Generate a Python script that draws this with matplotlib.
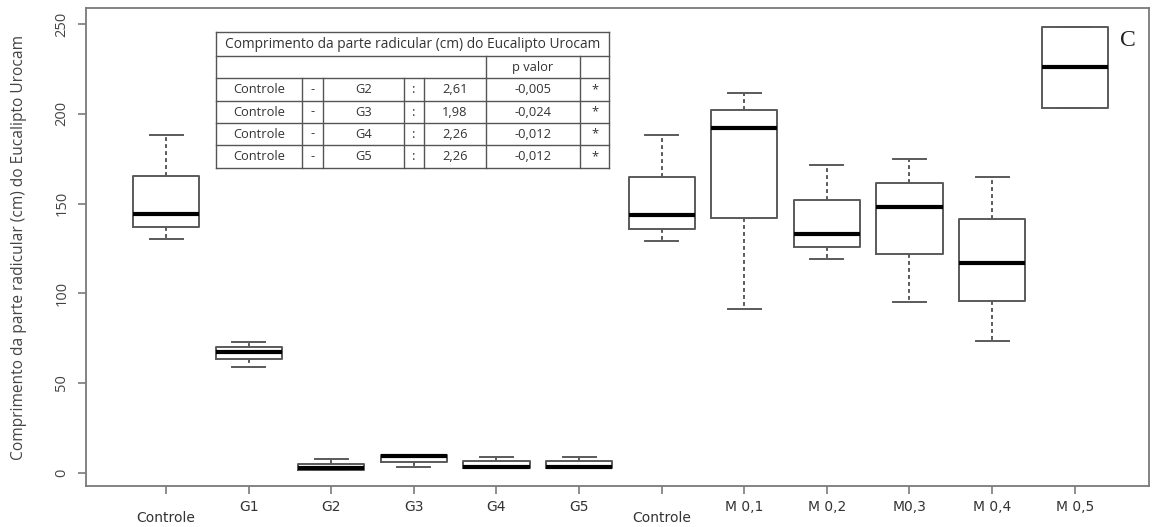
import matplotlib.pyplot as plt
import matplotlib.transforms as mtransforms

# five-number summaries (cm)
groups = ["Controle", "G1", "G2", "G3", "G4", "G5",
          "Controle", "M 0,1", "M 0,2", "M0,3", "M 0,4", "M 0,5"]
whislo = [130, 59, 1.4, 3.1, 2.4, 2.4, 129, 91, 119, 95, 73.5, 203.5]
q1 = [137, 63.5, 1.4, 5.9, 2.4, 2.4, 136, 142, 126, 122, 95.5, 203.5]
med = [144, 67, 2.3, 9.3, 3.3, 3.3, 143.5, 192, 133, 148, 117, 226]
q3 = [165.5, 70, 4.6, 10, 6.3, 6.3, 165, 202, 152, 161.5, 141.5, 248.5]
whishi = [188, 73, 7.3, 10, 8.9, 8.9, 188, 211.5, 171.5, 175, 165, 248.5]

yticks = [0, 50, 100, 150, 200, 250]

# table content
table_title = "Comprimento da parte radicular (cm) do Eucalipto Urocam"
table_rows = [
    ["Controle", "-", "G2", ":", "2,61", "-0,005", "*"],
    ["Controle", "-", "G3", ":", "1,98", "-0,024", "*"],
    ["Controle", "-", "G4", ":", "2,26", "-0,012", "*"],
    ["Controle", "-", "G5", ":", "2,26", "-0,012", "*"],
]

W, H = 1152, 527
fig = plt.figure(figsize=(W / 100, H / 100), dpi=100)
ax = fig.add_axes([86 / W, 1 - 486 / H, (1149 - 86) / W, (486 - 8) / H])

gray = "#5a5a5a"
stats = []
for i in range(len(groups)):
    stats.append(dict(whislo=whislo[i], q1=q1[i], med=med[i], q3=q3[i],
                      whishi=whishi[i], fliers=[]))

ax.bxp(stats, positions=range(1, len(groups) + 1), widths=0.8,
       patch_artist=False,
       boxprops=dict(color=gray, linewidth=1.4),
       medianprops=dict(color="black", linewidth=3),
       whiskerprops=dict(color=gray, linewidth=1.4, linestyle=(0, (2, 1.6))),
       capprops=dict(color=gray, linewidth=1.4))

ax.set_xlim(0.03, 12.9)
ax.set_ylim(-7.5, 259)

for s in ax.spines.values():
    s.set_color("#7a7a7a")
    s.set_linewidth(1.3)

ax.set_xticks(range(1, len(groups) + 1))
ax.set_xticklabels(groups, fontsize=10, color="#333333",
                   family=["Liberation Sans Narrow", "DejaVu Sans"])
ax.tick_params(axis="x", length=6, width=1.2, color="#7a7a7a", pad=4)
for lab, name in zip(ax.get_xticklabels(), groups):
    if name == "Controle":
        off = mtransforms.ScaledTranslation(0, -8 / 72, fig.dpi_scale_trans)
        lab.set_transform(lab.get_transform() + off)

ax.set_yticks(yticks)
ax.set_yticklabels([str(v) for v in yticks], rotation=90, va="center",
                   fontsize=10.5, color="#444444", family="Open Sans")
ax.tick_params(axis="y", length=6, width=1.2, color="#7a7a7a", pad=6)

ax.set_ylabel("Comprimento da parte radicular (cm) do Eucalipto Urocam",
              fontsize=11.2, color="#444444", family="Open Sans", labelpad=20)

ax.text(1128 / W, 1 - 40 / H, "C", transform=fig.transFigure, fontsize=17,
        family="Liberation Serif", color="#222222", ha="center", va="center")

# table drawn in figure pixel space
def fx(px):
    return px / W


def fy(py):
    return 1 - py / H


tcol = "#555555"
tl, tr = 216, 609
rows_y = [32, 56, 78, 101, 123, 145, 168]
cols_x = [216, 302, 323, 404, 424, 486, 580, 609]
lkw = dict(color=tcol, linewidth=1.0, transform=fig.transFigure)

for y in rows_y:
    fig.add_artist(plt.Line2D([fx(tl), fx(tr)], [fy(y), fy(y)], **lkw))
fig.add_artist(plt.Line2D([fx(tl), fx(tl)], [fy(rows_y[0]), fy(rows_y[-1])], **lkw))
fig.add_artist(plt.Line2D([fx(tr), fx(tr)], [fy(rows_y[0]), fy(rows_y[-1])], **lkw))
for cx in cols_x[1:-1]:
    fig.add_artist(plt.Line2D([fx(cx), fx(cx)], [fy(rows_y[2]), fy(rows_y[-1])], **lkw))
for cx in (486, 580):
    fig.add_artist(plt.Line2D([fx(cx), fx(cx)], [fy(rows_y[1]), fy(rows_y[2])], **lkw))

tkw = dict(transform=fig.transFigure, ha="center", va="center",
           color="#333333", family="Open Sans")
fig.text(fx((tl + tr) / 2), fy((rows_y[0] + rows_y[1]) / 2), table_title,
         fontsize=9.9, **tkw)
fig.text(fx((486 + 580) / 2), fy((rows_y[1] + rows_y[2]) / 2), "p valor",
         fontsize=9.3, **tkw)
for r, row in enumerate(table_rows):
    yc = fy((rows_y[r + 2] + rows_y[r + 3]) / 2)
    for c, val in enumerate(row):
        xc = fx((cols_x[c] + cols_x[c + 1]) / 2)
        fig.text(xc, yc, val, fontsize=9.3, **tkw)

fig.savefig("out.png", dpi=100)
